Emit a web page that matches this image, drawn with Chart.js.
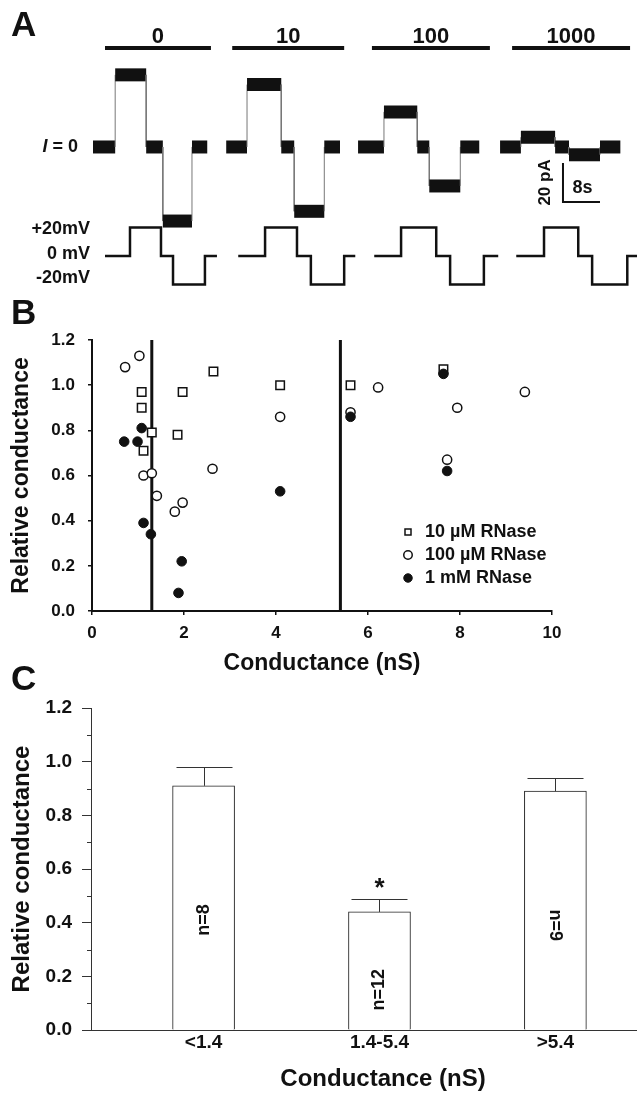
<!DOCTYPE html>
<html>
<head>
<meta charset="utf-8">
<script src="https://cdn.jsdelivr.net/npm/chart.js@4.4.1/dist/chart.umd.min.js"></script>
<style>
  html, body { margin: 0; padding: 0; background: #fff; }
  body { width: 637px; height: 1096px; position: relative; overflow: hidden; }
  canvas { position: absolute; left: 0; }
  #chartA { top: 0; }
  #chartB { top: 290px; }
  #chartC { top: 660px; }
</style>
</head>
<body>
<canvas id="chartA" width="637" height="300"></canvas>
<canvas id="chartB" width="637" height="391"></canvas>
<!-- wider than the page on purpose: the x axis runs off the right edge, as in the figure -->
<canvas id="chartC" width="675" height="436"></canvas>
<script>
// ---- Panel A: single-channel sweeps at each RNase concentration (µM) ----
const rnaseConc = ['0', '10', '100', '1000']
const rnaseOn = [[22.7, 45.6], [50.2, 74.4], [80.4, 105.9], [110.7, 136.2]] // s
const currentEdges = [
  [20.1, 24.9, 31.6, 35.2, 41.5, 44.8],
  [48.9, 53.4, 60.8, 63.6, 70.1, 73.5],
  [77.4, 83.0, 90.2, 92.8, 99.5, 103.6],
  [108.1, 112.6, 120.0, 123.0, 129.7, 134.1]
]
const currentLevels = [ // pA
  [0, 37, 0, -38, 0],
  [0, 32, 0, -33, 0],
  [0, 18, 0, -20, 0],
  [0, 5, 0, -4, 0]
]
const voltageEdges = [
  [22.7, 28.1, 34.8, 37.4, 44.3, 46.9],
  [51.5, 57.3, 64.2, 67.2, 74.4, 76.8],
  [80.9, 86.7, 94.3, 97.3, 104.6, 107.7],
  [111.6, 117.6, 125.0, 128.0, 135.6, 137.7]
]
const voltageLevels = [0, 20, 0, -20, 0] // mV
const voltageTicks = [20, 0, -20]

// ---- Panel B: relative conductance vs. channel conductance ----
const rnase10uM = [[1.08, 0.97], [1.08, 0.90], [1.30, 0.79], [1.12, 0.71], [1.97, 0.97], [1.86, 0.78], [2.64, 1.06], [4.09, 1.00], [5.62, 1.00], [7.64, 1.07]]
const rnase100uM = [[0.72, 1.08], [1.03, 1.13], [1.12, 0.60], [1.30, 0.61], [1.41, 0.51], [1.80, 0.44], [1.97, 0.48], [2.62, 0.63], [4.09, 0.86], [5.62, 0.88], [6.22, 0.99], [7.94, 0.90], [9.41, 0.97], [7.72, 0.67]]
const rnase1mM = [[1.08, 0.81], [0.70, 0.75], [0.99, 0.75], [1.12, 0.39], [1.28, 0.34], [1.95, 0.22], [1.88, 0.08], [4.09, 0.53], [5.62, 0.86], [7.64, 1.05], [7.72, 0.62]]
const cutoffs = [1.3, 5.4] // nS

// ---- Panel C: grouped means ----
const groups = ['<1.4', '1.4-5.4', '>5.4']
const meanRel = [0.91, 0.44, 0.89]
const semRel = [0.07, 0.05, 0.05]
const nCells = [8, 12, 9]
const significant = [false, true, false]

const FONT = '"Liberation Sans", Arial, sans-serif'
Chart.defaults.font.family = FONT
Chart.defaults.font.weight = 'bold'
Chart.defaults.color = '#111'
Chart.defaults.animation = false
Chart.defaults.events = []

const panelLetter = {
  id: 'panelLetter',
  afterDraw(chart, args, opts) {
    const { ctx } = chart
    ctx.save()
    ctx.font = `bold 35px ${FONT}`
    ctx.fillStyle = '#111'
    ctx.textAlign = 'left'
    ctx.textBaseline = 'alphabetic'
    ctx.fillText(opts.text, opts.x, opts.y)
    ctx.restore()
  }
}

const toSteps = (edges, levels) => levels.flatMap((v, i) => [{ x: edges[i], y: v }, { x: edges[i + 1], y: v }])
const flat = (ctx) => ctx.p0.parsed.y === ctx.p1.parsed.y

// bars over each sweep, level labels and the scale bar
const sweepNotes = {
  id: 'sweepNotes',
  afterDatasetsDraw(chart) {
    const { ctx, scales: { x, yI, yV } } = chart
    ctx.save()
    ctx.fillStyle = '#111'
    ctx.strokeStyle = '#111'

    ctx.lineWidth = 4
    ctx.font = `bold 22px ${FONT}`
    ctx.textAlign = 'center'
    ctx.textBaseline = 'alphabetic'
    rnaseOn.forEach(([t0, t1], i) => {
      const a = x.getPixelForValue(t0)
      const b = x.getPixelForValue(t1)
      ctx.beginPath()
      ctx.moveTo(a, 48)
      ctx.lineTo(b, 48)
      ctx.stroke()
      ctx.fillText(rnaseConc[i], (a + b) / 2, 43)
    })

    // "I = 0"
    ctx.textAlign = 'right'
    ctx.textBaseline = 'middle'
    const y0 = yI.getPixelForValue(0)
    ctx.font = `bold 18px ${FONT}`
    const rest = ' = 0'
    const w = ctx.measureText(rest).width
    ctx.fillText(rest, 78, y0)
    ctx.font = `italic bold 18px ${FONT}`
    ctx.fillText('I', 78 - w, y0)

    ctx.font = `bold 18px ${FONT}`
    const nudge = [2, -2, -6]
    voltageTicks.forEach((v, i) => {
      const txt = v > 0 ? `+${v}mV` : v === 0 ? '0 mV' : `${v}mV`
      ctx.fillText(txt, 90, yV.getPixelForValue(v) + nudge[i])
    })

    // scale bar: 20 pA, 8 s
    const sx = x.getPixelForValue(121.7)
    const sx2 = x.getPixelForValue(121.7 + 8)
    const sy = yI.getPixelForValue(-28.2)
    const sy2 = yI.getPixelForValue(-28.2 + 20)
    ctx.lineWidth = 2
    ctx.beginPath()
    ctx.moveTo(sx, sy2)
    ctx.lineTo(sx, sy)
    ctx.lineTo(sx2, sy)
    ctx.stroke()
    ctx.textAlign = 'center'
    ctx.textBaseline = 'alphabetic'
    ctx.fillText('8s', (sx + sx2) / 2 + 1, sy - 9)
    ctx.save()
    ctx.translate(sx - 13, (sy + sy2) / 2)
    ctx.rotate(-Math.PI / 2)
    ctx.font = `bold 17px ${FONT}`
    ctx.fillText('20 pA', 0, 0)
    ctx.restore()
    ctx.restore()
  }
}

new Chart(document.getElementById('chartA'), {
  type: 'line',
  data: {
    datasets: [
      ...currentEdges.map((edges, i) => ({
        data: toSteps(edges, currentLevels[i]),
        yAxisID: 'yI',
        borderColor: '#111',
        borderWidth: 13,
        borderCapStyle: 'butt',
        pointRadius: 0,
        segment: {
          borderWidth: (ctx) => (flat(ctx) ? 13 : 1),
          borderColor: (ctx) => (flat(ctx) ? '#111' : '#777')
        }
      })),
      ...voltageEdges.map((edges) => ({
        data: toSteps(edges, voltageLevels),
        yAxisID: 'yV',
        borderColor: '#111',
        borderWidth: 2.5,
        borderJoinStyle: 'miter',
        pointRadius: 0
      }))
    ]
  },
  options: {
    responsive: false,
    layout: { padding: 0 },
    scales: {
      x: { type: 'linear', display: false, min: 0, max: 137.7 },
      yI: { display: false, min: -78.5, max: 75.4 },
      yV: { display: false, min: -30.9, max: 179.6 }
    },
    plugins: {
      legend: { display: false },
      tooltip: { enabled: false },
      panelLetter: { text: 'A', x: 11, y: 36 }
    }
  },
  plugins: [panelLetter, sweepNotes]
})

// move the legend into the empty lower-right part of the plot
const legendAt = {
  id: 'legendAt',
  afterLayout(chart, args, opts) {
    const lg = chart.legend
    const w = lg.width
    const h = lg.height
    lg.left = opts.x
    lg.top = opts.y
    lg.right = opts.x + w
    lg.bottom = opts.y + h
  }
}

const pts = (arr) => arr.map(([x, y]) => ({ x, y }))

new Chart(document.getElementById('chartB'), {
  type: 'scatter',
  data: {
    datasets: [
      { label: '10 µM RNase', data: pts(rnase10uM), pointStyle: 'rect', pointRadius: 6, borderColor: '#111', backgroundColor: '#fff', borderWidth: 1.5, order: 1 },
      { label: '100 µM RNase', data: pts(rnase100uM), pointStyle: 'circle', pointRadius: 4.6, borderColor: '#111', backgroundColor: '#fff', borderWidth: 1.5, order: 2 },
      { label: '1 mM RNase', data: pts(rnase1mM), pointStyle: 'circle', pointRadius: 4.8, borderColor: '#111', backgroundColor: '#111', borderWidth: 1, order: 0 },
      ...cutoffs.map((c) => ({
        label: `cut ${c}`,
        type: 'line',
        data: [{ x: c, y: 0 }, { x: c, y: 1.2 }],
        borderColor: '#111',
        borderWidth: 3,
        pointRadius: 0,
        order: 10
      }))
    ]
  },
  options: {
    responsive: false,
    layout: { padding: { top: 50, right: 85, left: 0, bottom: 0 } },
    scales: {
      x: {
        type: 'linear',
        min: 0,
        max: 10,
        ticks: { stepSize: 2, padding: 8, font: { size: 17 } },
        grid: { drawOnChartArea: false, tickLength: 4, color: '#111', lineWidth: 1.5 },
        border: { color: '#111', width: 2 },
        title: { display: true, text: 'Conductance (nS)', font: { size: 23 }, padding: { top: 0, bottom: 4 } },
        afterFit: (s) => { s.height = 70 }
      },
      y: {
        min: 0,
        max: 1.2,
        ticks: { stepSize: 0.2, padding: 13, font: { size: 17 }, callback: (v) => v.toFixed(1) },
        grid: { drawOnChartArea: false, tickLength: 4, color: '#111', lineWidth: 1.5 },
        border: { color: '#111', width: 2 },
        title: { display: true, text: 'Relative conductance', font: { size: 23 }, padding: { top: 8, bottom: 0 } },
        afterFit: (s) => { s.width = 92 }
      }
    },
    plugins: {
      legend: {
        position: 'chartArea',
        align: 'start',
        labels: {
          usePointStyle: true,
          boxWidth: 16,
          boxHeight: 6,
          padding: 5,
          font: { size: 18 },
          filter: (item) => item.datasetIndex < 3,
          sort: (a, b) => a.datasetIndex - b.datasetIndex
        }
      },
      legendAt: { x: 395, y: 228 },
      tooltip: { enabled: false },
      panelLetter: { text: 'B', x: 11, y: 34 }
    }
  },
  plugins: [panelLetter, legendAt]
})

// minor ticks halfway between labelled ticks, error bars, n and significance marks
const barNotes = {
  id: 'barNotes',
  afterDatasetsDraw(chart, args, opts) {
    const { ctx, chartArea, scales: { y } } = chart
    ctx.save()
    ctx.strokeStyle = '#333'
    ctx.lineWidth = 1
    ctx.beginPath()
    y.ticks.slice(1).forEach((t, i) => {
      const py = Math.round(y.getPixelForValue((t.value + y.ticks[i].value) / 2)) + 0.5
      ctx.moveTo(chartArea.left - 4, py)
      ctx.lineTo(chartArea.left, py)
    })
    ctx.stroke()

    const meta = chart.getDatasetMeta(0)
    ctx.fillStyle = '#111'
    meta.data.forEach((bar, i) => {
      const top = Math.round(y.getPixelForValue(meanRel[i] + semRel[i])) + 0.5
      const bx = Math.round(bar.x) + 0.5
      ctx.beginPath()
      ctx.moveTo(bx, bar.y)
      ctx.lineTo(bx, top)
      ctx.moveTo(bx - 28, top)
      ctx.lineTo(bx + 28, top)
      ctx.stroke()

      if (significant[i]) {
        ctx.font = `bold 26px ${FONT}`
        ctx.textAlign = 'center'
        ctx.textBaseline = 'alphabetic'
        ctx.fillText('*', bar.x, top - 4)
      }

      ctx.save()
      ctx.translate(bar.x, y.getPixelForValue(opts.nAt[i]))
      ctx.rotate((opts.nRot[i] * Math.PI) / 180)
      ctx.font = `bold 18px ${FONT}`
      ctx.textAlign = 'center'
      ctx.textBaseline = 'middle'
      ctx.fillText(`n=${nCells[i]}`, 0, 0)
      ctx.restore()
    })
    ctx.restore()
  }
}

new Chart(document.getElementById('chartC'), {
  type: 'bar',
  data: {
    datasets: [{
      data: meanRel.map((y, i) => ({ x: i + 1, y })),
      backgroundColor: '#fff',
      borderColor: '#222',
      borderWidth: 1,
      barThickness: 62
    }]
  },
  options: {
    responsive: false,
    layout: { padding: { top: 48, right: 0, left: 0, bottom: 0 } },
    scales: {
      x: {
        type: 'linear',
        offset: false,
        min: 0.36,
        max: 3.68,
        afterBuildTicks: (axis) => { axis.ticks = groups.map((_, i) => ({ value: i + 1 })) },
        ticks: { callback: (v) => groups[v - 1], padding: 1, font: { size: 19 }, autoSkip: false, maxRotation: 0 },
        grid: { drawOnChartArea: false, drawTicks: false },
        border: { color: '#333', width: 1 },
        title: { display: true, text: 'Conductance (nS)', font: { size: 24 }, padding: { top: 0, bottom: 2 } },
        afterFit: (s) => { s.height = 66 }
      },
      y: {
        min: 0,
        max: 1.2,
        ticks: { stepSize: 0.2, padding: 10, font: { size: 19 }, callback: (v) => v.toFixed(1) },
        grid: { drawOnChartArea: false, tickLength: 9, color: '#333', lineWidth: 1 },
        border: { color: '#333', width: 1 },
        title: { display: true, text: 'Relative conductance', font: { size: 24 }, padding: { top: 8, bottom: 0 } },
        afterFit: (s) => { s.width = 91 }
      }
    },
    plugins: {
      legend: { display: false },
      tooltip: { enabled: false },
      panelLetter: { text: 'C', x: 11, y: 690 - 660 },
      barNotes: { nAt: [0.41, 0.15, 0.39], nRot: [-90, -90, 90] }
    }
  },
  plugins: [panelLetter, barNotes]
})
</script>
</body>
</html>
